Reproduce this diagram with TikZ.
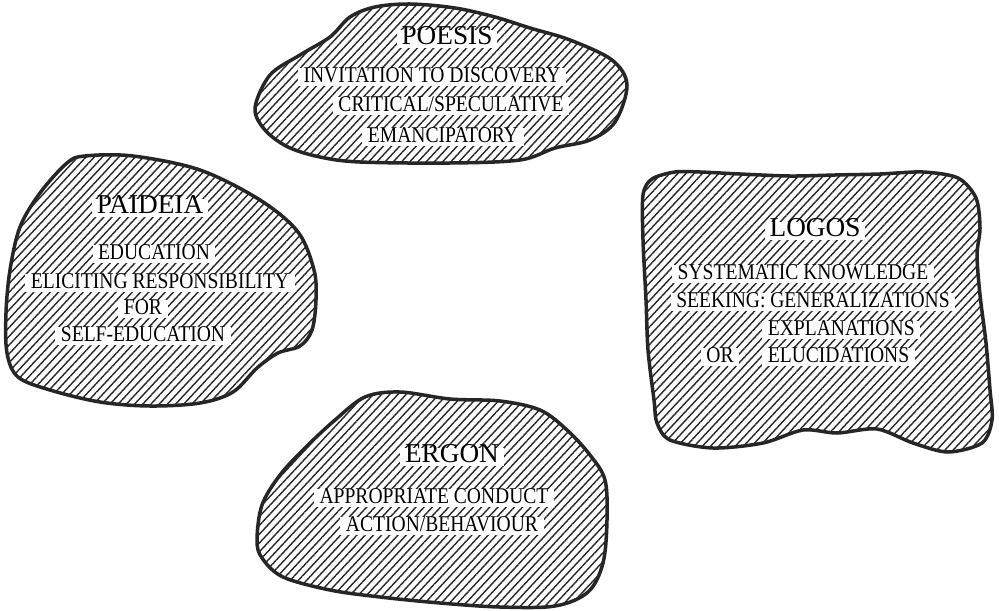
\documentclass[tikz,border=0pt]{standalone}
\usepackage{fontspec}
\setmainfont{Liberation Serif}
\newfontfamily\lblfont[FakeStretch=0.87]{Liberation Serif}
\usetikzlibrary{patterns.meta}

\begin{document}
\begin{tikzpicture}[
    x=0.2mm, y=-0.2mm,
    blob/.style={draw=black!85, line width=0.7mm, line join=round,
                 pattern={Lines[angle=47, distance=1.2mm, line width=0.28mm]},
                 pattern color=black!85},
    ttl/.style={fill=white, inner xsep=1mm, inner ysep=0.6mm,
                font=\fontsize{15.5}{17}\selectfont, text height=0.68em, text depth=0.02em},
    lbl/.style={fill=white, inner xsep=1.1mm, inner ysep=0.6mm,
                font=\lblfont\fontsize{12.8}{14}\selectfont, text height=0.68em, text depth=0.04em},
  ]
  \useasboundingbox (0,0) rectangle (999,610);

  % ---------- hatched blobs ----------
  \draw[blob] plot[smooth cycle, tension=0.55] coordinates {
    (255,108) (270,75) (300,55) (330,37) (350,17) (375,7) (410,4) (455,8)
    (495,17) (530,28) (570,40) (612,60) (627,85) (615,122) (590,140)
    (555,148) (520,160) (450,163) (360,162) (320,157) (288,147) (265,130)}; % poesis
  \draw[blob] plot[smooth cycle, tension=0.55] coordinates {
    (40,193) (67,163) (85,156) (133,156) (200,170) (260,200) (298,232)
    (314,270) (316,300) (312,330) (300,346) (278,353) (257,368) (233,392)
    (200,403) (150,406) (100,402) (50,390) (18,377) (7,353) (6,313)
    (10,270) (20,227)}; % paideia
  \draw[blob] plot[smooth cycle, tension=0.5] coordinates {
    (643,240) (643,195) (652,179) (675,172) (700,172) (740,174) (790,176)
    (835,175) (880,174) (923,172) (958,178) (976,198) (980,228) (977,255)
    (980,295) (986,343) (990,390) (992,420) (982,443) (948,452) (913,443)
    (877,429) (837,433) (803,430) (763,443) (713,448) (670,440) (657,423)
    (654,400) (648,350) (646,300)}; % logos
  \draw[blob] plot[smooth cycle, tension=0.55] coordinates {
    (257,540) (262,505) (280,475) (305,448) (335,420) (365,397) (400,392)
    (450,399) (500,401) (540,410) (567,430) (590,455) (605,480) (607,520)
    (603,563) (588,592) (555,606) (500,607) (440,603) (380,597) (330,590)
    (283,577) (262,558)}; % ergon

  % ---------- poesis ----------
  \node[ttl] (poesis) at (447,39) {POESIS};
  \node[lbl] (poesis1) at (432,77) {INVITATION TO DISCOVERY};
  \node[lbl] (poesis2) at (451,106) {CRITICAL/SPECULATIVE};
  \node[lbl] (poesis3) at (443,137) {EMANCIPATORY};

  % ---------- paideia ----------
  \node[ttl] (paideia) at (150,208) {PAIDEIA};
  \node[lbl] (paideia1) at (154,254) {EDUCATION};
  \node[lbl] (paideia2) at (160,283) {ELICITING RESPONSIBILITY};
  \node[lbl] (paideia3) at (143,309) {FOR};
  \node[lbl] (paideia4) at (143,336) {SELF-EDUCATION};

  % ---------- logos ----------
  \node[ttl] (logos) at (815,231) {LOGOS};
  \node[lbl] (logos1) at (803,274) {SYSTEMATIC KNOWLEDGE};
  \node[lbl] (logos2) at (813,302) {SEEKING: GENERALIZATIONS};
  \node[lbl, anchor=west] (logos3) at (762,330) {EXPLANATIONS};
  \node[lbl] (logos4) at (720,357) {OR};
  \node[lbl, anchor=west] (logos5) at (762,357) {ELUCIDATIONS};

  % ---------- ergon ----------
  \node[ttl] (ergon) at (452,457) {ERGON};
  \node[lbl] (ergon1) at (434,498) {APPROPRIATE CONDUCT};
  \node[lbl] (ergon2) at (442,526) {ACTION/BEHAVIOUR};

\end{tikzpicture}
\end{document}
